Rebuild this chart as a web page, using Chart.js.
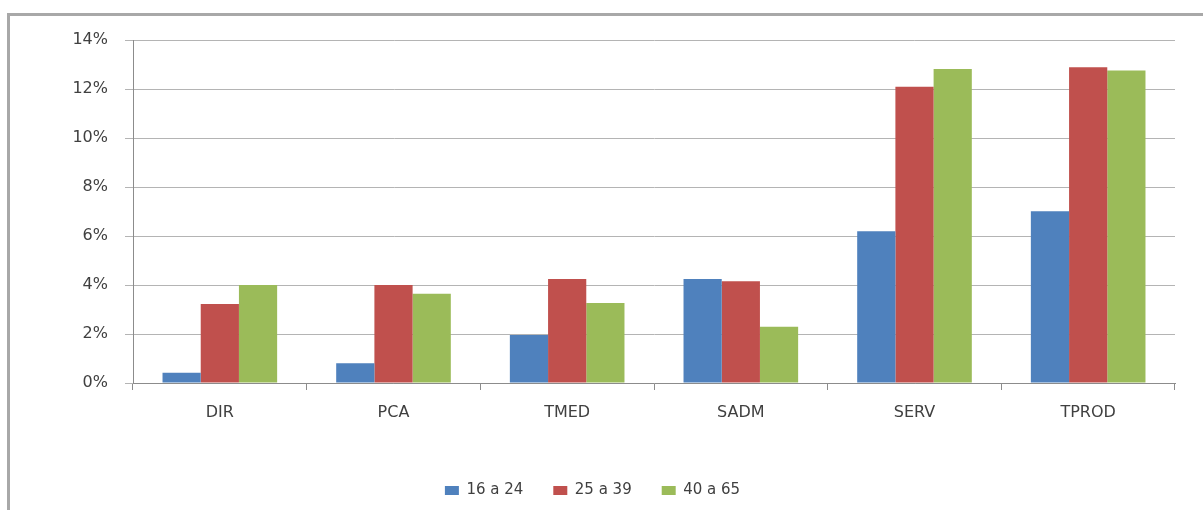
<!DOCTYPE html>
<html>
<head>
<meta charset="utf-8">
<script src="https://cdn.jsdelivr.net/npm/chart.js@4"></script>
<style>
    body { margin: 0; background: #fff; }
    #frame {
        position: absolute; left: 7px; top: 13px;
        width: 1196px; height: 497px;
        border-left: 3px solid #a8a8a8; border-top: 3px solid #a8a8a8;
    }
    #chart { display: block; }
</style>
</head>
<body>
<div id="frame"><canvas id="chart" width="1193" height="494"></canvas></div>
<script>
// Occupational groups by age band (% share)
const categories = ['DIR', 'PCA', 'TMED', 'SADM', 'SERV', 'TPROD'];
const seriesNames = ['16 a 24', '25 a 39', '40 a 65'];
const age16to24 = [0.42, 0.81, 1.96, 4.25, 6.19, 7.01];
const age25to39 = [3.22, 4.0, 4.25, 4.15, 12.09, 12.89];
const age40to65 = [4.0, 3.64, 3.27, 2.3, 12.82, 12.76];
const yTicks = [0, 2, 4, 6, 8, 10, 12, 14];

const COLORS = ['#4F81BD', '#C0504D', '#9BBB59'];
const TEXT = '#404040';
const FONT = 'DejaVu Sans';

const ctx = document.getElementById('chart');
new Chart(ctx, {
    type: 'bar',
    data: {
        labels: categories,
        datasets: [age16to24, age25to39, age40to65].map((vals, i) => ({
            label: seriesNames[i],
            data: vals,
            backgroundColor: COLORS[i],
            borderWidth: 0,
            categoryPercentage: 0.66,
            barPercentage: 1.0
        }))
    },
    options: {
        responsive: false,
        animation: false,
        layout: { padding: { left: 0, right: 28, top: 24, bottom: 2 } },
        plugins: {
            tooltip: { enabled: false },
            legend: {
                position: 'bottom',
                labels: {
                    color: TEXT,
                    font: { family: FONT, size: 15 },
                    boxWidth: 14,
                    boxHeight: 9,
                    padding: 30
                }
            }
        },
        scales: {
            x: {
                grid: { display: true, drawOnChartArea: false, color: '#8c8c8c', tickLength: 7 },
                border: { color: '#8c8c8c' },
                ticks: { color: TEXT, font: { family: FONT, size: 16 }, padding: 13 },
                afterFit: (scale) => { scale.height = 70; }
            },
            y: {
                min: 0,
                max: 14,
                afterBuildTicks: (scale) => { scale.ticks = yTicks.map(v => ({ value: v })); },
                grid: { color: '#b4b4b4', tickLength: 8 },
                border: { color: '#8c8c8c' },
                ticks: {
                    color: TEXT,
                    font: { family: FONT, size: 16 },
                    padding: 17,
                    callback: (v) => v + '%'
                },
                afterFit: (scale) => {
                    scale.width = 123;
                    scale.paddingTop = 10;
                    scale.paddingBottom = 10;
                }
            }
        }
    }
});
</script>
</body>
</html>
